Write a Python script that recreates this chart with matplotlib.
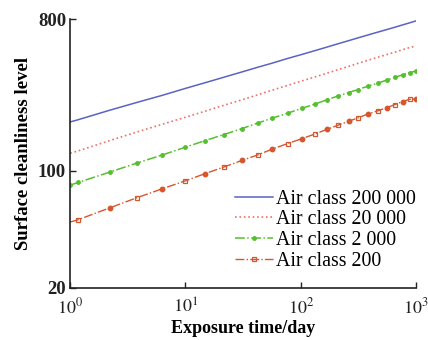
import matplotlib
matplotlib.use('Agg')
import matplotlib.pyplot as plt

plt.rcParams['font.family'] = ['Liberation Serif', 'DejaVu Serif']
plt.rcParams['mathtext.fontset'] = 'stix'

# exposure time (day), read at marker positions
days = [1, 1.17, 2.2, 3.8, 6.3, 10, 14.8, 21.5, 30.8, 42.4, 56, 77, 102, 132,
        168, 209, 261, 312, 380, 464, 556, 651, 764, 879, 1000]

# surface cleanliness level per air class
class_200000 = [195, 201, 229, 255, 281, 309, 334, 360, 387, 413, 436, 466, 492,
                518, 544, 569, 595, 617, 642, 668, 692, 714, 738, 759, 780]
class_20000 = [127, 131, 151, 170, 189, 208, 226, 245, 264, 283, 301, 322, 342,
               361, 380, 399, 418, 435, 454, 473, 491, 507, 525, 541, 552]
class_2000 = [82, 85, 98, 111, 124, 138, 151, 164, 178, 192, 205, 220, 235,
              249, 264, 278, 292, 304, 318, 332, 346, 359, 372, 384, 392]
class_200 = [49.4, 51, 60, 69, 78, 87, 96, 105, 115, 124, 134, 145, 155,
             165, 176, 186, 197, 206, 217, 227, 237, 247, 258, 266, 267]

labels = ['Air class 200 000', 'Air class 20 000', 'Air class 2 000', 'Air class 200']

fig = plt.figure(figsize=(4.28, 3.4), dpi=100)
ax = fig.add_axes([0.164, 0.153, 0.808, 0.791])

ax.plot(days, class_200000, color='#5B62C4', lw=1.1, ls='-', label=labels[0])
ax.plot(days, class_20000, color='#F0706A', lw=1.2, ls=':', label=labels[1])
ax.plot(days, class_2000, color='#55C02E', lw=1.1, ls='-.', marker='o',
        ms=2.5, label=labels[2])
ax.plot(days, class_200, color='#D4572E', lw=1.0, ls='-.', marker='s',
        ms=3.5, mfc='none', mew=0.9, markevery=(1, 2), label=labels[3])
ax.plot(days, class_200, color='#D4572E', lw=0, marker='o', ms=3.2,
        markevery=(2, 2))

ax.set_xscale('log')
ax.set_yscale('log')
ax.set_xlim(1, 1000)
ax.set_ylim(20, 800)
ax.set_xticks([1, 10, 100, 1000])
ax.set_xticklabels([r'$10^0$', r'$10^1$', r'$10^2$', r'$10^3$'])
ax.set_yticks([20, 100, 800])
ax.set_yticklabels(['20', '100', '800'], fontweight='bold')
ax.minorticks_off()
ax.tick_params(direction='in', length=4, width=1, colors='#222222')
ax.tick_params(axis='y', labelsize=13.5, pad=3)
ax.tick_params(axis='x', labelsize=13, pad=7)

for s in ['top', 'right']:
    ax.spines[s].set_visible(False)
for s in ['left', 'bottom']:
    ax.spines[s].set_linewidth(1.2)
    ax.spines[s].set_color('#222222')

ax.set_xlabel('Exposure time/day', fontsize=13, fontweight='bold', labelpad=2)
ax.set_ylabel('Surface cleanliness level', fontsize=13.5, fontweight='bold', labelpad=4)

ax.legend(loc='lower right', bbox_to_anchor=(1.01, 0.05), frameon=False,
          fontsize=14.3, handlelength=1.9, handletextpad=0.15, labelspacing=0.08,
          borderaxespad=0.0, borderpad=0.2)

fig.savefig('out.png', dpi=100)
